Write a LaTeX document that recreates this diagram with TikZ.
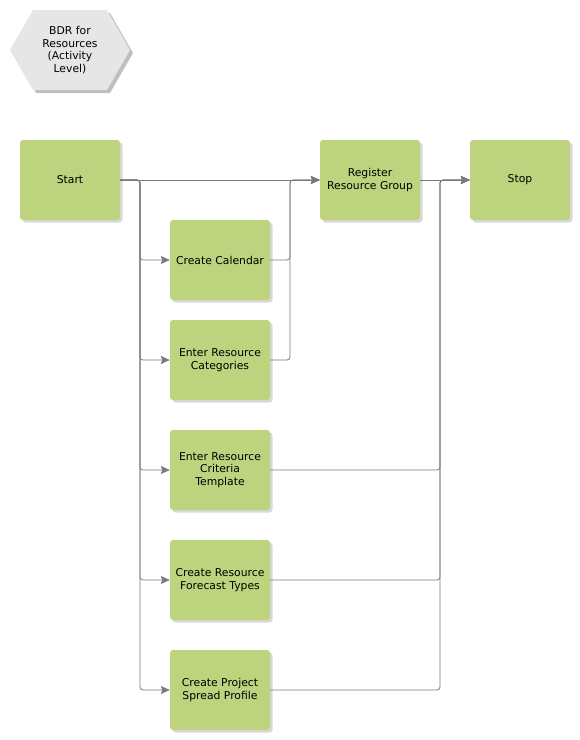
\documentclass[tikz,border=0pt]{standalone}
\usepackage{fontspec}
\setmainfont{DejaVu Sans}
\usepackage{tikz}
\usetikzlibrary{arrows.meta,shadows,calc}
\definecolor{verde}{HTML}{BDD37E}
\definecolor{gris}{HTML}{7A7A7A}
\definecolor{hexgris}{HTML}{E6E6E6}

\begin{document}
\begin{tikzpicture}[x=1pt, y=-1pt,
  font=\fontsize{10.8}{12.7}\selectfont,
  caja/.style={fill=verde, rounded corners=3pt, align=center, inner sep=0.5pt,
    minimum width=100pt, minimum height=80pt,
    drop shadow={shadow xshift=2.5pt, shadow yshift=-2.5pt, fill=black!30}},
  flecha/.style={-{Stealth[length=9pt, width=8pt, inset=1.5pt]}, gris, line width=0.8pt, rounded corners=3pt}]
  \useasboundingbox (0,0) rectangle (580,740);
  % etiqueta del proceso
  \fill[black!25] (13,53) -- (36,13) -- (110,13) -- (133,53) -- (110,93) -- (36,93) -- cycle;
  \fill[hexgris] (10,50) -- (33,10) -- (107,10) -- (130,50) -- (107,90) -- (33,90) -- cycle;
  \node[align=center] (bdr) at (70,50) {BDR for\\Resources\\(Activity\\Level)};
  % actividades
  \node[caja] (start) at (70,180) {Start};
  \node[caja] (reg) at (370,180) {Register\\Resource Group};
  \node[caja] (stop) at (520,180) {Stop};
  \node[caja] (cal) at (220,260) {Create Calendar};
  \node[caja] (cat) at (220,360) {Enter Resource\\Categories};
  \node[caja] (crit) at (220,470) {Enter Resource\\Criteria\\Template};
  \node[caja] (fore) at (220,580) {Create Resource\\Forecast Types};
  \node[caja] (spread) at (220,690) {Create Project\\Spread Profile};
  \coordinate (bus1) at (140,180);
  \coordinate (bus2) at (290,180);
  \coordinate (bus3) at (440,180);
  % conexiones
  \draw[flecha] (start.east) -- (reg.west);
  \foreach \n in {cal,cat,crit,fore,spread}
    \draw[flecha] (start.east) -- (bus1) |- (\n.west);
  \foreach \n in {cal,cat}
    \draw[flecha] (\n.east) -| (bus2) -- (reg.west);
  \draw[flecha] (reg.east) -- (stop.west);
  \foreach \n in {crit,fore,spread}
    \draw[flecha] (\n.east) -| (bus3) -- (stop.west);
\end{tikzpicture}
\end{document}
